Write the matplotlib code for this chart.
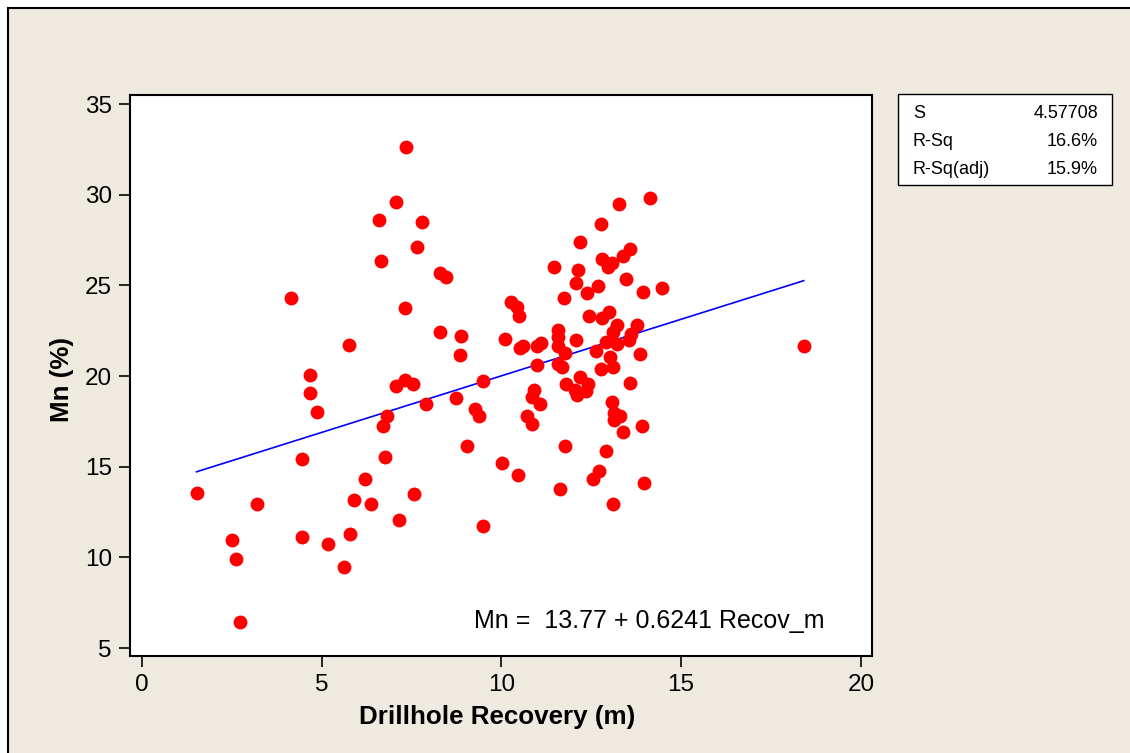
import matplotlib
matplotlib.use("Agg")
import matplotlib.pyplot as plt
from matplotlib.patches import Rectangle
import numpy as np

# data (Recov_m vs Mn %)
recovery = [1.52, 2.50, 2.61, 2.73, 3.20, 4.14, 4.45, 4.45, 4.68, 4.67,
            4.86, 5.17, 5.61, 5.78, 5.89, 5.77, 6.20, 6.37, 6.60, 6.65,
            6.70, 6.76, 6.81, 7.08, 7.07, 7.15, 7.32, 7.53, 7.31, 7.36,
            7.57, 7.64, 7.80, 7.90, 8.29, 8.46, 8.29, 8.73, 8.89, 8.85,
            9.04, 9.28, 9.37, 9.49, 9.49, 10.03, 10.10,
            10.26, 10.44, 10.49, 10.51, 10.61, 11.00, 11.10, 10.98, 10.91, 10.86,
            11.07, 10.70, 10.86, 10.47, 11.46, 11.58, 11.58, 11.58, 11.58, 11.70,
            11.74, 11.77, 11.79, 11.78, 11.63, 12.07, 12.07, 12.12, 12.18, 12.18,
            12.04, 12.35, 12.11, 12.41, 12.39, 12.44, 12.62, 12.68, 12.77, 12.81,
            12.79, 12.77, 12.71, 12.55, 12.92, 12.92, 12.97, 13.00, 13.02, 13.08,
            13.09, 13.11, 13.11, 13.14, 13.14, 13.11, 13.22, 13.22, 13.27, 13.31,
            13.37, 13.39, 13.48, 13.55, 13.59, 13.60, 13.59, 13.76, 13.87, 13.92,
            13.93, 13.97, 14.13, 14.46, 18.41]
mn = [13.56, 10.97, 9.90, 6.43, 12.94, 24.28, 15.42, 11.12, 20.07, 19.08,
      18.01, 10.75, 9.46, 11.30, 13.16, 21.69, 14.32, 12.94, 28.62, 26.34,
      17.26, 15.53, 17.81, 29.58, 19.46, 12.05, 19.78, 19.56, 23.75, 32.61,
      13.49, 27.10, 28.49, 18.45, 25.69, 25.47, 22.44, 18.78, 22.22, 21.14,
      16.14, 18.18, 17.81, 19.74, 11.72, 15.22, 22.02,
      24.06, 23.82, 23.31, 21.53, 21.67, 21.67, 21.83, 20.60, 19.23, 18.82,
      18.44, 17.79, 17.35, 14.55, 26.01, 22.53, 22.17, 21.67, 20.68, 20.51,
      24.28, 21.25, 19.54, 16.15, 13.78, 22.00, 25.14, 25.83, 27.40, 19.96,
      19.23, 19.19, 18.95, 19.56, 24.59, 23.32, 21.38, 24.94, 28.38, 26.45,
      23.21, 20.37, 14.77, 14.33, 21.86, 15.86, 25.99, 23.53, 21.06, 26.25,
      18.58, 22.44, 20.48, 17.97, 17.57, 12.94, 22.81, 21.76, 29.49, 17.79,
      16.93, 26.63, 25.36, 21.98, 27.00, 22.31, 19.63, 22.81, 21.19, 17.24,
      24.61, 14.11, 29.81, 24.83, 21.67]

intercept = 13.77
slope = 0.6241
stat_names = ["S", "R-Sq", "R-Sq(adj)"]
stat_values = ["4.57708", "16.6%", "15.9%"]

plt.rcParams['font.family'] = ['Liberation Sans', 'DejaVu Sans']
W, H = 1130, 753
fig = plt.figure(figsize=(W / 100, H / 100), dpi=100)
fig.patch.set_facecolor('white')

# beige panel with black top/left edge
fig.patches.append(Rectangle((8 / W, -0.1), 1.2, (1 - 8 / H) + 0.1, transform=fig.transFigure,
                             facecolor='#EEEAE0', edgecolor='black', lw=1.5, zorder=-10))

ax = fig.add_axes([130 / W, 97 / H, 742 / W, 561 / H])
ax.set_facecolor('white')

ax.scatter(recovery, mn, s=100, c='#FF0000', linewidths=0, zorder=3)
xs = np.array([min(recovery), max(recovery)])
ax.plot(xs, intercept + slope * xs, color='#0000FF', lw=1.2, zorder=2)

ax.set_xlim(-0.33, 20.31)
ax.set_ylim(4.56, 35.5)
ax.set_xticks([0, 5, 10, 15, 20])
ax.set_yticks([5, 10, 15, 20, 25, 30, 35])
ax.tick_params(direction='out', length=8, width=1.2, labelsize=17.5, pad=5)
for s in ax.spines.values():
    s.set_linewidth(1.5)

fig.text(497 / W, 1 - 717 / H, "Drillhole Recovery (m)", fontsize=18.7, fontweight='bold',
         ha='center', va='center')
fig.text(62 / W, 1 - 380 / H, "Mn (%)", fontsize=18.7, fontweight='bold',
         ha='center', va='center', rotation=90)
fig.text(474 / W, 1 - 621 / H, "Mn =  13.77 + 0.6241 Recov_m", fontsize=18,
         ha='left', va='center')

# summary box
fig.patches.append(Rectangle((898 / W, 1 - 185 / H), 214 / W, 91 / H, transform=fig.transFigure,
                             facecolor='white', edgecolor='black', lw=1))
rows_y = [113, 142, 170]
for name, val, yy in zip(stat_names, stat_values, rows_y):
    fig.text(913 / W, 1 - yy / H, name, fontsize=13, ha='left', va='center')
    fig.text(1098 / W, 1 - yy / H, val, fontsize=13, ha='right', va='center')

fig.savefig("out.png", dpi=100)
